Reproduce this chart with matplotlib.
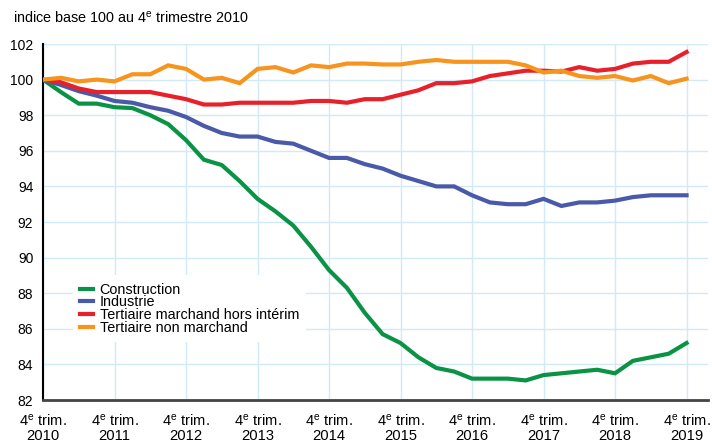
"""Emploi salarié par secteur, indice base 100 au 4e trimestre 2010"""
import matplotlib
matplotlib.use('Agg')
import matplotlib.pyplot as plt

plt.rcParams['font.family'] = ['Liberation Sans', 'DejaVu Sans']
plt.rcParams['mathtext.fontset'] = 'custom'
plt.rcParams['mathtext.rm'] = 'Liberation Sans'
plt.rcParams['mathtext.it'] = 'Liberation Sans:italic'

# quarterly values, 4e trim. 2010 -> 4e trim. 2019
construction = [100, 99.3, 98.65, 98.65, 98.45, 98.4, 98.0, 97.5, 96.6, 95.5,
                95.2, 94.3, 93.3, 92.6, 91.8, 90.6, 89.3, 88.3, 86.9, 85.7,
                85.2, 84.4, 83.8, 83.6, 83.2, 83.2, 83.2, 83.1, 83.4, 83.5,
                83.6, 83.7, 83.5, 84.2, 84.4, 84.6, 85.2]
industrie = [100, 99.7, 99.35, 99.1, 98.8, 98.7, 98.45, 98.25, 97.9, 97.4,
             97.0, 96.8, 96.8, 96.5, 96.4, 96.0, 95.6, 95.6, 95.25, 95.0,
             94.6, 94.3, 94.0, 94.0, 93.5, 93.1, 93.0, 93.0, 93.3, 92.9,
             93.1, 93.1, 93.2, 93.4, 93.5, 93.5, 93.5]
tert_marchand = [100, 99.85, 99.5, 99.3, 99.3, 99.3, 99.3, 99.1, 98.9, 98.6,
                 98.6, 98.7, 98.7, 98.7, 98.7, 98.8, 98.8, 98.7, 98.9, 98.9,
                 99.15, 99.4, 99.8, 99.8, 99.9, 100.2, 100.35, 100.5, 100.5, 100.45,
                 100.7, 100.5, 100.6, 100.9, 101.0, 101.0, 101.55]
tert_non_marchand = [100, 100.1, 99.9, 100.0, 99.9, 100.3, 100.3, 100.8, 100.6, 100.0,
                     100.1, 99.8, 100.6, 100.7, 100.4, 100.8, 100.7, 100.9, 100.9, 100.85,
                     100.85, 101.0, 101.1, 101.0, 101.0, 101.0, 101.0, 100.8, 100.4, 100.5,
                     100.2, 100.1, 100.2, 99.95, 100.2, 99.8, 100.05]
years = ['2010', '2011', '2012', '2013', '2014', '2015', '2016', '2017', '2018', '2019']

series = [
    ('Construction', construction, '#0a9345'),
    ('Industrie', industrie, '#4a5aa8'),
    ('Tertiaire marchand hors intérim', tert_marchand, '#e8202a'),
    ('Tertiaire non marchand', tert_non_marchand, '#f7941d'),
]

fig = plt.figure(figsize=(7.12, 4.42), dpi=100)
ax = fig.add_axes([43 / 712, 1 - 400 / 442, 665 / 712, 356 / 442])

x = list(range(len(construction)))
for label, vals, col in series:
    ax.plot(x, vals, color=col, lw=3, label=label, zorder=3, solid_joinstyle='miter')

ax.set_xlim(0, 37.2)
ax.set_ylim(82, 102)
ax.set_yticks(range(82, 103, 2))
ax.set_xticks([4 * i for i in range(len(years))])
ax.set_xticklabels(['4$^{\\mathrm{e}}$ trim.\n' + y for y in years], linespacing=1.05)
ax.tick_params(length=0, labelsize=10)
ax.tick_params(axis='x', pad=9, labelsize=10.6)
ax.tick_params(axis='y', pad=7)
ax.grid(True, color='#d2eaf8', lw=1)
ax.set_axisbelow(True)

for s in ['top', 'right']:
    ax.spines[s].set_visible(False)
ax.spines['left'].set_color('black')
ax.spines['left'].set_linewidth(1.5)
ax.spines['bottom'].set_color('#444444')
ax.spines['bottom'].set_linewidth(2)

leg = ax.legend(loc='center left', bbox_to_anchor=(0.045, 0.256), fontsize=10.4,
                frameon=True, fancybox=False, edgecolor='none', framealpha=1,
                handlelength=0.9, handletextpad=0.45, labelspacing=-0.08,
                borderpad=0.5, borderaxespad=0)
for h in leg.get_lines():
    h.set_linewidth(3)
leg.set_zorder(4)

fig.text(13 / 712, 1 - 18 / 442, 'indice base 100 au 4$^{\\mathrm{e}}$ trimestre 2010',
         fontsize=10.4, va='center', ha='left')

fig.savefig('out.png', dpi=100)
